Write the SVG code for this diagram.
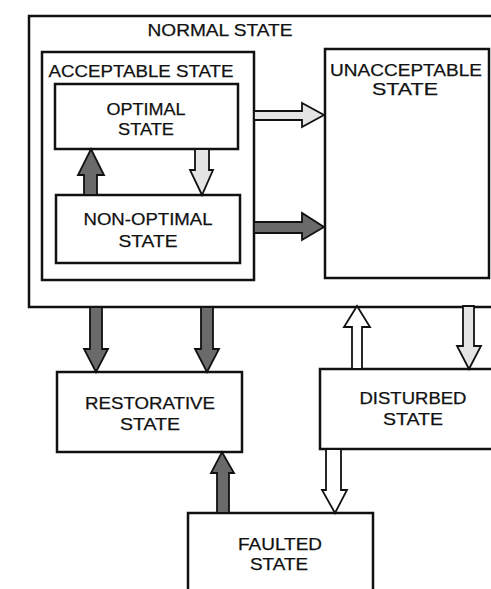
<svg xmlns="http://www.w3.org/2000/svg" width="491" height="589" viewBox="0 0 491 589">
<style>
.box{fill:#fff;stroke:#111;stroke-width:2.5}
.t{font-family:"Liberation Sans",Arial,sans-serif;font-size:17px;fill:#111;stroke:#111;stroke-width:0.25;text-anchor:middle}
.dark{fill:#6a6a6a;stroke:#111;stroke-width:1.8;stroke-linejoin:miter}
.hollow{fill:#fff;stroke:#111;stroke-width:1.8}
.light{fill:#e4e4e4;stroke:#111;stroke-width:1.8}
</style>
<rect width="491" height="589" fill="#fff"/>
<g id="normal">
<rect class="box" x="29" y="16" width="475" height="291"/>
<text class="t" x="220" y="36" textLength="145" lengthAdjust="spacingAndGlyphs">NORMAL STATE</text>
</g>
<g id="acceptable">
<rect class="box" x="42" y="52" width="212" height="228"/>
<text class="t" x="141" y="77" textLength="185" lengthAdjust="spacingAndGlyphs">ACCEPTABLE STATE</text>
</g>
<g id="optimal">
<rect class="box" x="55" y="84" width="183" height="65"/>
<text class="t" x="146" y="115" textLength="79" lengthAdjust="spacingAndGlyphs">OPTIMAL</text>
<text class="t" x="146" y="135" textLength="56" lengthAdjust="spacingAndGlyphs">STATE</text>
</g>
<g id="nonoptimal">
<rect class="box" x="56" y="195" width="184" height="68"/>
<text class="t" x="148" y="225" textLength="129" lengthAdjust="spacingAndGlyphs">NON-OPTIMAL</text>
<text class="t" x="148" y="247" textLength="59" lengthAdjust="spacingAndGlyphs">STATE</text>
</g>
<g id="unacceptable">
<rect class="box" x="325" y="49" width="164" height="229"/>
<text class="t" x="406" y="76" textLength="152" lengthAdjust="spacingAndGlyphs">UNACCEPTABLE</text>
<text class="t" x="405" y="95" textLength="66" lengthAdjust="spacingAndGlyphs">STATE</text>
</g>
<g id="restorative">
<rect class="box" x="57" y="372" width="185" height="80"/>
<text class="t" x="150" y="409" textLength="130" lengthAdjust="spacingAndGlyphs">RESTORATIVE</text>
<text class="t" x="150" y="430" textLength="60" lengthAdjust="spacingAndGlyphs">STATE</text>
</g>
<g id="disturbed">
<rect class="box" x="320" y="369" width="185" height="80"/>
<text class="t" x="413" y="404" textLength="107" lengthAdjust="spacingAndGlyphs">DISTURBED</text>
<text class="t" x="413" y="425" textLength="60" lengthAdjust="spacingAndGlyphs">STATE</text>
</g>
<g id="faulted">
<rect class="box" x="188" y="513" width="185" height="90"/>
<text class="t" x="280" y="550" textLength="84" lengthAdjust="spacingAndGlyphs">FAULTED</text>
<text class="t" x="279" y="570" textLength="58" lengthAdjust="spacingAndGlyphs">STATE</text>
</g>
<g id="connectors">
<polygon class="light" points="254,111 302,111 302,103 324,115 302,127 302,120 254,120"/>
<polygon class="dark" points="254,222 302,222 302,213 324,227 302,240 302,233 254,233"/>
<polygon class="light" points="195,149 209,149 209,170 213,170 202,195 190,170 195,170"/>
<polygon class="dark" points="84,195 97,195 97,175 104,175 91,149 78,175 84,175"/>
<polygon class="dark" points="90,307 102,307 102,349 108,349 96,372 84,349 90,349"/>
<polygon class="dark" points="201,307 213,307 213,349 219,349 207,372 195,349 201,349"/>
<polygon class="hollow" points="352,369 362,369 362,327 370,327 357,306 344,327 352,327"/>
<polygon class="light" points="463,306 474,306 474,346 481,346 469,369 457,346 463,346"/>
<polygon class="hollow" points="326,449 341,449 341,490 347,490 335,513 322,490 326,490"/>
<polygon class="dark" points="217,513 229,513 229,473 234,473 222,452 211,473 217,473"/>
</g>
</svg>
